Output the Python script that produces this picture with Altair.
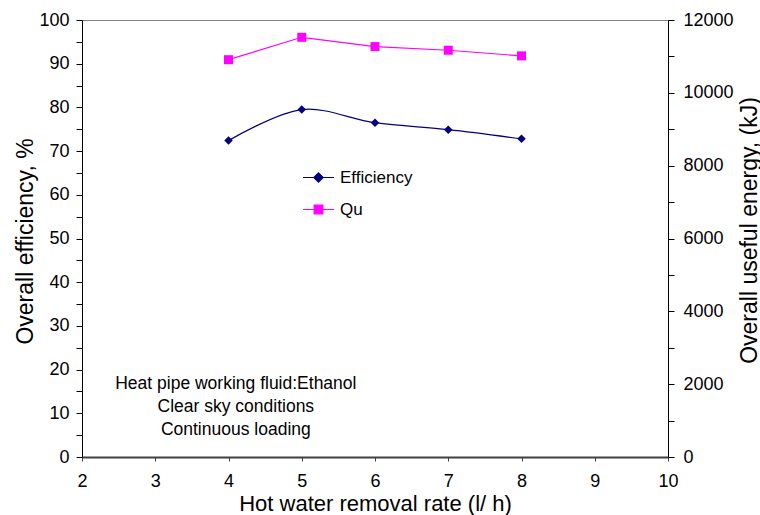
import altair as alt
import pandas as pd

# ---- data ----
rate = [4, 5, 6, 7, 8]
efficiency = [72.4, 79.5, 76.5, 74.9, 72.8]
useful_energy = [10910, 11525, 11270, 11170, 11015]
series_names = ["Efficiency", "Qu"]
series_colors = ["#000080", "#FF00FF"]
legend_paths = [
    "M-1,0L1,0M0,-0.3L0.3,0L0,0.3L-0.3,0Z",
    "M-1,0L1,0M-0.28,-0.28L0.28,-0.28L0.28,0.28L-0.28,0.28Z",
]
note_lines = ["Heat pipe working fluid:Ethanol", "Clear sky conditions", "Continuous loading"]
note_pos = {"x": 4.1, "y": 16.7}
x_ticks = list(range(2, 11))
left_ticks = list(range(0, 101, 5))
right_ticks = list(range(0, 12001, 1000))

FONT = "Liberation Sans"

df_eff = pd.DataFrame({"x": rate, "v": efficiency, "s": series_names[0]})
df_qu = pd.DataFrame({"x": rate, "v": useful_energy, "s": series_names[1]})
df_note = pd.DataFrame({"x": [note_pos["x"]], "y": [note_pos["y"]], "t": ["\n".join(note_lines)]})
df_leg = pd.DataFrame({"s": series_names})

x_scale = alt.Scale(domain=[2, 10], nice=False, zero=False)
x_axis = alt.Axis(
    values=x_ticks, title="Hot water removal rate (l/ h)", grid=False, labelFlush=False,
    tickSize=4, tickColor="#404040", domainColor="#404040", domainWidth=2,
    labelFontSize=18, labelFont=FONT, labelColor="black", labelPadding=11,
    titleFontSize=22, titleFont=FONT, titleFontWeight="normal", titleColor="black",
    titleY=53, titleBaseline="alphabetic",
)
left_scale = alt.Scale(domain=[0, 100], nice=False)
left_axis = alt.Axis(
    values=left_ticks, labelExpr="datum.value % 10 == 0 ? datum.label : ''",
    title="Overall efficiency, %", grid=False, orient="left",
    tickSize=6, tickColor="black", domainColor="black",
    labelFontSize=18, labelFont=FONT, labelColor="black", labelPadding=7,
    titleFontSize=23, titleFont=FONT, titleFontWeight="normal", titleColor="black",
    titleAngle=270, titleX=-50, titleY=221, titleBaseline="alphabetic", titleAlign="center",
)
right_scale = alt.Scale(domain=[0, 12000], nice=False)
right_axis = alt.Axis(
    values=right_ticks, labelExpr="datum.value % 2000 == 0 ? datum.label : ''", format="d",
    title="Overall useful energy, (kJ)", grid=False, orient="right",
    tickSize=6, tickColor="black", domainColor="black",
    labelFontSize=18, labelFont=FONT, labelColor="black", labelPadding=9,
    titleFontSize=23, titleFont=FONT, titleFontWeight="normal", titleColor="black",
    titleAngle=270, titleX=88, titleY=210, titleBaseline="alphabetic", titleAlign="center",
)

X = alt.X("x:Q", scale=x_scale, axis=x_axis)

eff_line = alt.Chart(df_eff).mark_line(
    interpolate="catmull-rom", color=series_colors[0], strokeWidth=1.2
).encode(x=X, y=alt.Y("v:Q", scale=left_scale, axis=left_axis))
eff_pts = alt.Chart(df_eff).mark_point(
    shape="diamond", filled=True, size=72, color=series_colors[0], opacity=1
).encode(x=X, y=alt.Y("v:Q", scale=left_scale, axis=left_axis))
note = alt.Chart(df_note).mark_text(
    lineBreak="\n", lineHeight=23, fontSize=17.5, font=FONT, align="center",
    baseline="middle", color="black"
).encode(x=X, y=alt.Y("y:Q", scale=left_scale, axis=left_axis), text="t:N")

legend_layer = alt.Chart(df_leg).mark_point(filled=True, opacity=1, strokeWidth=1.2).encode(
    fill=alt.Fill("s:N", scale=alt.Scale(domain=series_names, range=series_colors),
                  legend=alt.Legend(
                      title=None, orient="none", legendX=220, legendY=141,
                      labelFontSize=17, labelFont=FONT, labelColor="black",
                      labelOffset=5, rowPadding=7, symbolSize=961,
                      symbolStrokeWidth=1.2)),
    stroke=alt.Stroke("s:N", scale=alt.Scale(domain=series_names, range=series_colors)),
    shape=alt.Shape("s:N", scale=alt.Scale(domain=series_names, range=legend_paths)),
).transform_filter("false")

left = alt.layer(eff_line, eff_pts, note, legend_layer)

qu_line = alt.Chart(df_qu).mark_line(color=series_colors[1], strokeWidth=1.2).encode(
    x=X, y=alt.Y("v:Q", scale=right_scale, axis=right_axis))
qu_pts = alt.Chart(df_qu).mark_point(
    shape="square", filled=True, size=81, color=series_colors[1], opacity=1
).encode(x=X, y=alt.Y("v:Q", scale=right_scale, axis=right_axis))
right = alt.layer(qu_line, qu_pts)

chart = alt.layer(left, right).resolve_scale(y="independent").properties(
    width=586, height=437,
    autosize=alt.AutoSizeParams(type="none"),
    padding={"left": 82, "top": 20, "right": 92, "bottom": 58},
    background="white",
).configure_view(stroke="#808080", strokeWidth=1)

chart.save("out.html", embed_options={"renderer": "svg", "actions": False})
